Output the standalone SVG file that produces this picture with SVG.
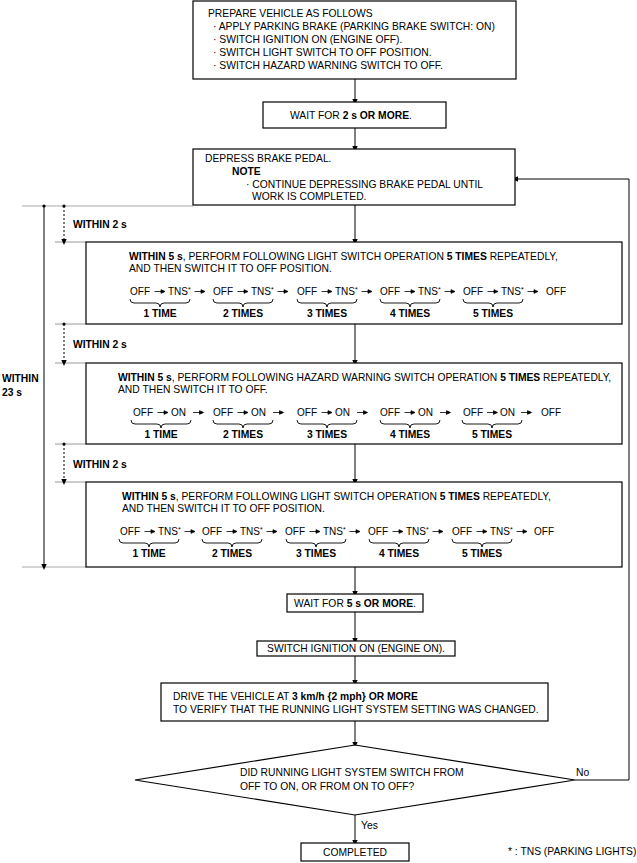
<svg xmlns="http://www.w3.org/2000/svg" width="637" height="863" viewBox="0 0 637 863">
<style>
text{font-family:"Liberation Sans",Arial,sans-serif;font-size:10.3px;fill:#000}
.b{font-weight:bold}
.sq{font-size:10px}
.box{fill:#fff;stroke:#000;stroke-width:1.2}
.con{fill:none;stroke:#000;stroke-width:1}
.dash{fill:none;stroke:#000;stroke-width:1;stroke-dasharray:2,2}
.grey{fill:none;stroke:#aaa;stroke-width:1.2}
.br{fill:none;stroke:#000;stroke-width:0.9}
.mid{text-anchor:middle}
.sup{font-size:7px}
.sa{fill:#000;stroke:#000;stroke-width:0.8}
</style>
<defs>
<marker id="ah" markerWidth="6" markerHeight="10" refX="5" refY="4.5" orient="auto" markerUnits="userSpaceOnUse" viewBox="0 0 10 9">
<path d="M0,0 L10,4.5 L0,9 Z" fill="#000"/>
</marker>
<path id="brace" d="M0,0 Q0,4 4,4 L26,4 Q30,4 30,8 Q30,4 34,4 L56,4 Q60,4 60,0"/>
<path id="sarr" d="M0,0 H7 M10.5,0 L6.5,-1.8 L6.5,1.8 Z"/>
</defs>

<g id="connectors">
<line class="con" x1="355" y1="79" x2="355" y2="102" marker-end="url(#ah)"/>
<line class="con" x1="355" y1="128" x2="355" y2="149" marker-end="url(#ah)"/>
<line class="con" x1="355" y1="205" x2="355" y2="242" marker-end="url(#ah)"/>
<line class="con" x1="355" y1="324" x2="355" y2="363" marker-end="url(#ah)"/>
<line class="con" x1="355" y1="444" x2="355" y2="482" marker-end="url(#ah)"/>
<line class="con" x1="355" y1="567" x2="355" y2="594" marker-end="url(#ah)"/>
<line class="con" x1="355" y1="612" x2="355" y2="641" marker-end="url(#ah)"/>
<line class="con" x1="355" y1="656" x2="355" y2="683" marker-end="url(#ah)"/>
<line class="con" x1="355" y1="721" x2="355" y2="745" marker-end="url(#ah)"/>
<line class="con" x1="355" y1="815" x2="355" y2="843" marker-end="url(#ah)"/>
<polyline class="con" points="575,780 629,780 629,179 515,179" marker-end="url(#ah)"/>
<text x="361" y="829">Yes</text>
<text x="576" y="776">No</text>
</g>

<g id="timing">
<line class="grey" x1="22" y1="206" x2="193" y2="206"/>
<line class="grey" x1="55" y1="242" x2="86" y2="242"/>
<line class="grey" x1="55" y1="324" x2="86" y2="324"/>
<line class="grey" x1="55" y1="363" x2="86" y2="363"/>
<line class="grey" x1="55" y1="444" x2="86" y2="444"/>
<line class="grey" x1="55" y1="482" x2="86" y2="482"/>
<line class="grey" x1="22" y1="567" x2="86" y2="567"/>
<line class="con" x1="44" y1="206" x2="44" y2="567" marker-end="url(#ah)"/>
<circle cx="44" cy="206" r="1.6"/>
<line class="dash" x1="64" y1="206" x2="64" y2="242" marker-end="url(#ah)"/>
<circle cx="64" cy="206" r="1.6"/>
<line class="dash" x1="64" y1="324" x2="64" y2="363" marker-end="url(#ah)"/>
<circle cx="64" cy="324" r="1.6"/>
<line class="dash" x1="64" y1="444" x2="64" y2="482" marker-end="url(#ah)"/>
<circle cx="64" cy="444" r="1.6"/>
<text class="b" x="73" y="228">WITHIN 2 s</text>
<text class="b" x="73" y="348">WITHIN 2 s</text>
<text class="b" x="73" y="468">WITHIN 2 s</text>
<text class="b" x="2" y="382">WITHIN</text>
<text class="b" x="2" y="396">23 s</text>
</g>

<g id="prepare">
<rect class="box" x="193" y="1" width="323" height="78"/>
<text x="208" y="17">PREPARE VEHICLE AS FOLLOWS</text>
<text x="213" y="30">· APPLY PARKING BRAKE (PARKING BRAKE SWITCH: ON)</text>
<text x="213" y="43">· SWITCH IGNITION ON (ENGINE OFF).</text>
<text x="213" y="56">· SWITCH LIGHT SWITCH TO OFF POSITION.</text>
<text x="213" y="69">· SWITCH HAZARD WARNING SWITCH TO OFF.</text>
</g>

<g id="wait2">
<rect class="box" x="263" y="102" width="183" height="26"/>
<text x="290" y="119">WAIT FOR <tspan class="b">2 s OR MORE</tspan>.</text>
</g>

<g id="depress">
<rect class="box" x="193" y="149" width="322" height="56"/>
<text x="205" y="162">DEPRESS BRAKE PEDAL.</text>
<text class="b" x="232" y="175">NOTE</text>
<text x="246" y="188">· CONTINUE DEPRESSING BRAKE PEDAL UNTIL</text>
<text x="252" y="200">WORK IS COMPLETED.</text>
</g>

<g id="light1">
<rect class="box" x="86" y="242" width="536" height="82"/>
<text x="129" y="260"><tspan class="b">WITHIN 5 s</tspan>, PERFORM FOLLOWING LIGHT SWITCH OPERATION <tspan class="b">5 TIMES</tspan> REPEATEDLY,</text>
<text x="129" y="272">AND THEN SWITCH IT TO OFF POSITION.</text>
<text class="sq" x="130" y="295">OFF</text><text class="sq" x="168" y="295">TNS<tspan class="sup" dy="-3">*</tspan></text>
<text class="sq" x="213" y="295">OFF</text><text class="sq" x="251" y="295">TNS<tspan class="sup" dy="-3">*</tspan></text>
<text class="sq" x="297" y="295">OFF</text><text class="sq" x="335" y="295">TNS<tspan class="sup" dy="-3">*</tspan></text>
<text class="sq" x="380" y="295">OFF</text><text class="sq" x="418" y="295">TNS<tspan class="sup" dy="-3">*</tspan></text>
<text class="sq" x="463" y="295">OFF</text><text class="sq" x="501" y="295">TNS<tspan class="sup" dy="-3">*</tspan></text>
<text class="sq" x="546" y="295">OFF</text>
<use href="#sarr" class="sa" x="154.5" y="291.5"/><use href="#sarr" class="sa" x="194.5" y="291.5"/>
<use href="#sarr" class="sa" x="237.5" y="291.5"/><use href="#sarr" class="sa" x="277.5" y="291.5"/>
<use href="#sarr" class="sa" x="321.5" y="291.5"/><use href="#sarr" class="sa" x="361.5" y="291.5"/>
<use href="#sarr" class="sa" x="404.5" y="291.5"/><use href="#sarr" class="sa" x="444.5" y="291.5"/>
<use href="#sarr" class="sa" x="487.5" y="291.5"/><use href="#sarr" class="sa" x="527.5" y="291.5"/>
<use href="#brace" class="br" x="130" y="299"/>
<use href="#brace" class="br" x="213" y="299"/>
<use href="#brace" class="br" x="297" y="299"/>
<use href="#brace" class="br" x="380" y="299"/>
<use href="#brace" class="br" x="463" y="299"/>
<text class="b mid" x="160" y="317">1 TIME</text>
<text class="b mid" x="243" y="317">2 TIMES</text>
<text class="b mid" x="327" y="317">3 TIMES</text>
<text class="b mid" x="410" y="317">4 TIMES</text>
<text class="b mid" x="493" y="317">5 TIMES</text>
</g>

<g id="hazard">
<rect class="box" x="86" y="363" width="536" height="81"/>
<text x="118" y="381"><tspan class="b">WITHIN 5 s</tspan>, PERFORM FOLLOWING HAZARD WARNING SWITCH OPERATION <tspan class="b">5 TIMES</tspan> REPEATEDLY,</text>
<text x="118" y="393">AND THEN SWITCH IT TO OFF.</text>
<text class="sq" x="133" y="416">OFF</text><text class="sq" x="171" y="416">ON</text>
<text class="sq" x="213" y="416">OFF</text><text class="sq" x="251" y="416">ON</text>
<text class="sq" x="297" y="416">OFF</text><text class="sq" x="335" y="416">ON</text>
<text class="sq" x="380" y="416">OFF</text><text class="sq" x="418" y="416">ON</text>
<text class="sq" x="463" y="416">OFF</text><text class="sq" x="500" y="416">ON</text>
<text class="sq" x="541" y="416">OFF</text>
<use href="#sarr" class="sa" x="157.5" y="412.5"/><use href="#sarr" class="sa" x="193" y="412.5"/>
<use href="#sarr" class="sa" x="237.5" y="412.5"/><use href="#sarr" class="sa" x="273" y="412.5"/>
<use href="#sarr" class="sa" x="321.5" y="412.5"/><use href="#sarr" class="sa" x="357" y="412.5"/>
<use href="#sarr" class="sa" x="404.5" y="412.5"/><use href="#sarr" class="sa" x="440" y="412.5"/>
<use href="#sarr" class="sa" x="487" y="412.5"/><use href="#sarr" class="sa" x="521" y="412.5"/>
<use href="#brace" class="br" x="131" y="420"/>
<use href="#brace" class="br" x="213" y="420"/>
<use href="#brace" class="br" x="297" y="420"/>
<use href="#brace" class="br" x="380" y="420"/>
<use href="#brace" class="br" x="462" y="420"/>
<text class="b mid" x="161" y="438">1 TIME</text>
<text class="b mid" x="243" y="438">2 TIMES</text>
<text class="b mid" x="327" y="438">3 TIMES</text>
<text class="b mid" x="410" y="438">4 TIMES</text>
<text class="b mid" x="492" y="438">5 TIMES</text>
</g>

<g id="light2">
<rect class="box" x="86" y="482" width="536" height="85"/>
<text x="122" y="500"><tspan class="b">WITHIN 5 s</tspan>, PERFORM FOLLOWING LIGHT SWITCH OPERATION <tspan class="b">5 TIMES</tspan> REPEATEDLY,</text>
<text x="122" y="512">AND THEN SWITCH IT TO OFF POSITION.</text>
<text class="sq" x="120" y="535">OFF</text><text class="sq" x="158" y="535">TNS<tspan class="sup" dy="-3">*</tspan></text>
<text class="sq" x="202" y="535">OFF</text><text class="sq" x="240" y="535">TNS<tspan class="sup" dy="-3">*</tspan></text>
<text class="sq" x="285" y="535">OFF</text><text class="sq" x="323" y="535">TNS<tspan class="sup" dy="-3">*</tspan></text>
<text class="sq" x="368" y="535">OFF</text><text class="sq" x="406" y="535">TNS<tspan class="sup" dy="-3">*</tspan></text>
<text class="sq" x="452" y="535">OFF</text><text class="sq" x="490" y="535">TNS<tspan class="sup" dy="-3">*</tspan></text>
<text class="sq" x="534" y="535">OFF</text>
<use href="#sarr" class="sa" x="144.5" y="531.5"/><use href="#sarr" class="sa" x="184.5" y="531.5"/>
<use href="#sarr" class="sa" x="226.5" y="531.5"/><use href="#sarr" class="sa" x="266.5" y="531.5"/>
<use href="#sarr" class="sa" x="309.5" y="531.5"/><use href="#sarr" class="sa" x="349.5" y="531.5"/>
<use href="#sarr" class="sa" x="392.5" y="531.5"/><use href="#sarr" class="sa" x="432.5" y="531.5"/>
<use href="#sarr" class="sa" x="476.5" y="531.5"/><use href="#sarr" class="sa" x="516.5" y="531.5"/>
<use href="#brace" class="br" x="119" y="539"/>
<use href="#brace" class="br" x="202" y="539"/>
<use href="#brace" class="br" x="286" y="539"/>
<use href="#brace" class="br" x="369" y="539"/>
<use href="#brace" class="br" x="452" y="539"/>
<text class="b mid" x="149" y="557">1 TIME</text>
<text class="b mid" x="232" y="557">2 TIMES</text>
<text class="b mid" x="316" y="557">3 TIMES</text>
<text class="b mid" x="399" y="557">4 TIMES</text>
<text class="b mid" x="482" y="557">5 TIMES</text>
</g>

<g id="wait5">
<rect class="box" x="287" y="594" width="136" height="18"/>
<text class="mid" x="355" y="607">WAIT FOR <tspan class="b">5 s OR MORE</tspan>.</text>
</g>

<g id="ignition">
<rect class="box" x="257" y="641" width="198" height="15"/>
<text class="mid" x="356" y="652">SWITCH IGNITION ON (ENGINE ON).</text>
</g>

<g id="drive">
<rect class="box" x="161" y="683" width="387" height="38"/>
<text x="173" y="700">DRIVE THE VEHICLE AT <tspan class="b">3 km/h {2 mph} OR MORE</tspan></text>
<text x="173" y="713">TO VERIFY THAT THE RUNNING LIGHT SYSTEM SETTING WAS CHANGED.</text>
</g>

<g id="decision">
<polygon class="box" points="355,745 575,780 355,815 135,780"/>
<text x="240" y="776">DID RUNNING LIGHT SYSTEM SWITCH FROM</text>
<text x="240" y="790">OFF TO ON, OR FROM ON TO OFF?</text>
</g>

<g id="completed">
<rect class="box" x="301" y="843" width="108" height="18"/>
<text class="mid" x="355" y="856">COMPLETED</text>
</g>

<g id="footnote">
<text x="508" y="855">* : TNS (PARKING LIGHTS)</text>
</g>
</svg>
